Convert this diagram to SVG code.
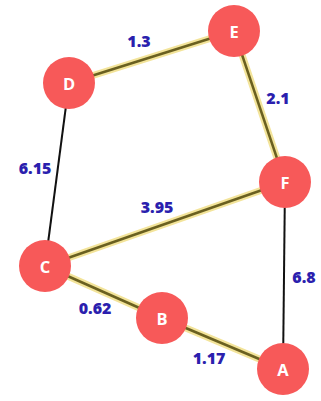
<svg xmlns="http://www.w3.org/2000/svg" width="321" height="401" viewBox="0 0 321 401">
<style>
.halo{stroke:#f3e49a;stroke-width:7;stroke-linecap:round;fill:none}
.core{stroke:#6a6020;stroke-width:2.5;fill:none}
.plain{stroke:#111;stroke-width:2;fill:none}
.w{font-family:"Open Sans","Liberation Sans",sans-serif;font-weight:800;font-size:16px;fill:#2b1fae;text-anchor:middle}
.node circle{fill:#f75959}
.node text{font-family:"Open Sans","Liberation Sans",sans-serif;font-weight:bold;font-size:16.5px;fill:#fff;text-anchor:middle;dominant-baseline:central}
</style>
<rect width="321" height="401" fill="#fff"/>
<g id="connectors">
<g id="e-DE"><line class="halo" x1="69" y1="83" x2="234" y2="31"/><line class="core" x1="69" y1="83" x2="234" y2="31"/></g>
<g id="e-EF"><line class="halo" x1="234" y1="31" x2="285" y2="182"/><line class="core" x1="234" y1="31" x2="285" y2="182"/></g>
<g id="e-FC"><line class="halo" x1="285" y1="182" x2="45" y2="266"/><line class="core" x1="285" y1="182" x2="45" y2="266"/></g>
<g id="e-CB"><line class="halo" x1="45" y1="266" x2="162" y2="318"/><line class="core" x1="45" y1="266" x2="162" y2="318"/></g>
<g id="e-BA"><line class="halo" x1="162" y1="318" x2="283" y2="369"/><line class="core" x1="162" y1="318" x2="283" y2="369"/></g>
<line id="e-DC" class="plain" x1="69" y1="83" x2="45" y2="266"/>
<line id="e-FA" class="plain" x1="285" y1="182" x2="283" y2="369"/>
<text class="w" x="139" y="47">1.3</text>
<text class="w" x="278" y="104">2.1</text>
<text class="w" x="35" y="174">6.15</text>
<text class="w" x="157" y="213">3.95</text>
<text class="w" x="304" y="283">6.8</text>
<text class="w" x="95" y="314">0.62</text>
<text class="w" x="209" y="364">1.17</text>
</g>
<g id="node-E" class="node"><circle cx="234" cy="31" r="26"/><text x="234" y="31">E</text></g>
<g id="node-D" class="node"><circle cx="69" cy="83" r="26"/><text x="69" y="83">D</text></g>
<g id="node-F" class="node"><circle cx="285" cy="182" r="26"/><text x="285" y="182">F</text></g>
<g id="node-C" class="node"><circle cx="45" cy="266" r="26"/><text x="45" y="266">C</text></g>
<g id="node-B" class="node"><circle cx="162" cy="318" r="26"/><text x="162" y="318">B</text></g>
<g id="node-A" class="node"><circle cx="283" cy="369" r="26"/><text x="283" y="369">A</text></g>
</svg>
